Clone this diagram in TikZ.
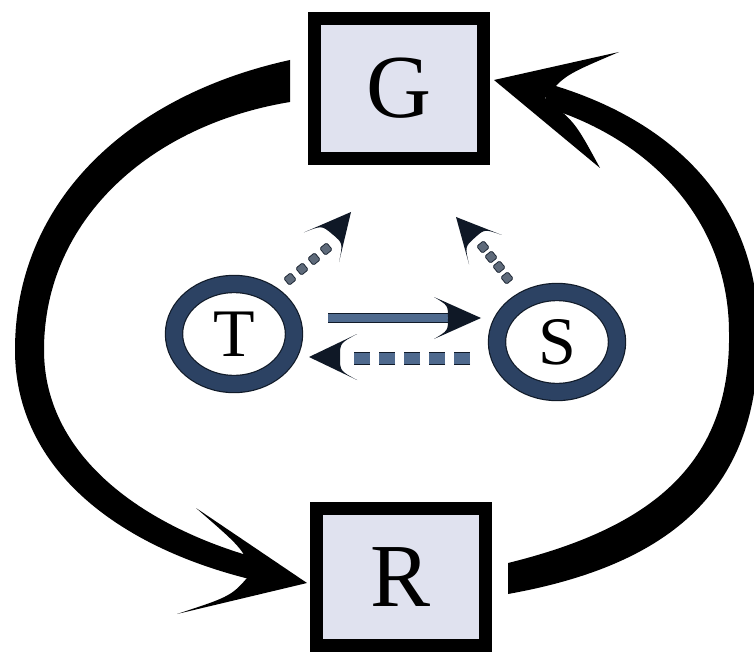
\documentclass[tikz,border=0pt]{standalone}
\usepackage{fontspec}
\setmainfont{Liberation Serif}
\usetikzlibrary{shapes.geometric}
\definecolor{boxfill}{HTML}{E0E2EF}
\definecolor{ringblue}{HTML}{2C4263}
\definecolor{ringdark}{HTML}{111B29}
\definecolor{barblue}{HTML}{4F6A8E}
\definecolor{headcol}{HTML}{0F1826}
\definecolor{dotgray}{HTML}{5E6A7A}
\tikzset{
  boxnode/.style={rectangle, draw=black, line width=13pt, fill=boxfill,
    minimum width=169pt, minimum height=140pt, inner sep=0pt,
    font=\fontsize{90}{90}\selectfont},
  ringnode/.style={ellipse, draw=ringdark, line width=1.2pt, double=ringblue,
    double distance=16pt, fill=white, minimum width=120pt, minimum height=100pt,
    inner sep=0pt, font=\fontsize{68}{68}\selectfont},
  bigarc/.style={fill=black},
  bigtip/.style={fill=black},
  barline/.style={draw=ringdark, line width=1pt, double=barblue, double distance=8pt},
  dashline/.style={draw=ringdark, line width=1pt, double=barblue, double distance=11pt,
    dash pattern=on 16pt off 9pt},
  dotsq/.style={rectangle, rounded corners=1.5pt, fill=dotgray, draw=ringdark,
    line width=0.7pt, minimum size=9pt, inner sep=0pt},
  pics/shead/.style args={#1/#2/#3}{code={
    \fill[headcol] (0,0) -- (-#1,#2) .. controls (-#3,0.6*#2) .. (-#3,0)
      .. controls (-#3,-0.6*#2) .. (-#1,-#2) -- cycle;}},
}
\begin{document}
\begin{tikzpicture}[x=1pt,y=-1pt]
\useasboundingbox (0,0) rectangle (754,652);
\fill[white] (0,0) rectangle (754,652);

% big left arc G -> R
\coordinate (Lstart) at (290,81);
\coordinate (Ltip) at (307,583);
\fill[bigarc] (290,60) .. controls (130,95) and (15,200) .. (15,350)
  .. controls (15,470) and (120,550) .. (262,582)
  -- (264,560) .. controls (150,530) and (44,460) .. (44,350)
  .. controls (44,220) and (150,125) .. (290,102) -- cycle;
\fill[bigtip] (Ltip) -- (196,508) .. controls (242,548) .. (252,572) .. controls (232,596) .. (177,614) -- cycle;

% big right arc R -> G
\coordinate (Rstart) at (508,578);
\coordinate (Rtip) at (494,80);
\fill[bigarc] (542,82) .. controls (680,120) and (758,210) .. (758,330)
  .. controls (762,490) and (670,565) .. (508,594)
  -- (508,563) .. controls (650,528) and (731,465) .. (729,333)
  .. controls (729,220) and (650,140) .. (548,108) -- cycle;
\fill[bigtip] (Rtip) -- (619,52) .. controls (565,75) .. (545,98) .. controls (575,122) .. (600,168) -- cycle;

% boxes
\node[boxnode] (G) at (399,88.5) {G};
\node[boxnode, minimum height=137pt] (R) at (401,577) {R};

% rings
\node[ringnode] (T) at (234,334) {T};
\node[ringnode] (S) at (557,342) {S};

% solid arrow T -> S
\coordinate (ts1) at (328,318);
\coordinate (ts2) at (452,318);
\draw[barline] (ts1) -- (ts2);
\pic at (481,318) {shead={47/21/33}};

% dashed arrow S -> T
\coordinate (st1) at (470,358);
\coordinate (st2) at (352,358);
\draw[dashline] (st1) -- (st2);
\pic[rotate=180] at (309,357) {shead={48/23/31}};

% dotted arrow T -> G
\foreach \p in {(290,279),(302,269),(314,259),(326,249)}
  \node[dotsq, rotate=40] at \p {};
\pic[rotate=50] at (351,212) {shead={46/23/29}};

% dotted arrow S -> G
\foreach \p in {(507,278),(499,267),(491,257),(483,247)}
  \node[dotsq, rotate=130] at \p {};
\pic[rotate=132] at (456,217) {shead={44/22/28}};
\end{tikzpicture}
\end{document}
